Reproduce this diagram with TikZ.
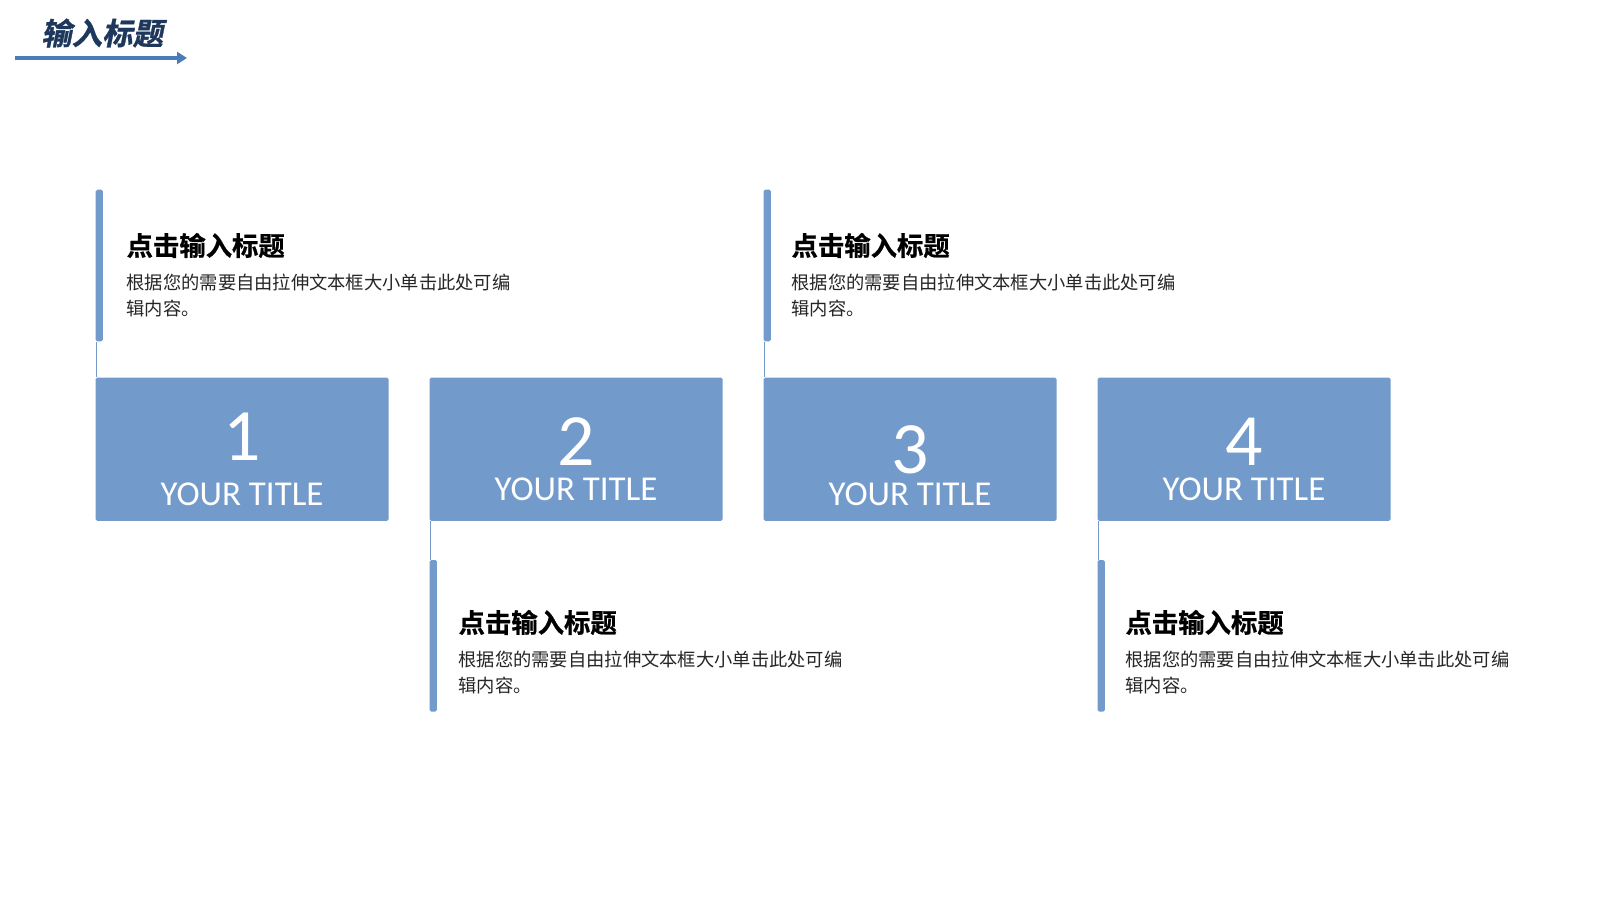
\documentclass[tikz,border=0pt]{standalone}
\usepackage{fontspec}
\setmainfont{Carlito}
\newfontfamily\cjkfont{Noto Sans CJK SC}
\newfontfamily\cjkboldfont{Noto Sans CJK SC Bold}[FakeBold=0.8]
\newfontfamily\cjkslantfont{Noto Sans CJK SC Bold}[FakeSlant=0.2, FakeBold=1]
\usetikzlibrary{positioning, calc, arrows.meta}
\definecolor{boxblue}{RGB}{114,154,203}
\definecolor{arrowblue}{RGB}{74,124,186}
\definecolor{titlenavy}{RGB}{30,55,92}

\begin{document}
\begin{tikzpicture}[x=0.3mm, y=-0.3mm, node distance=12.15mm]

        \tikzstyle{numbox} = [rectangle, rounded corners=0.5mm, fill=boxblue, minimum width=87.9mm, minimum height=43mm, inner sep=0pt]
        \tikzstyle{bar} = [rectangle, rounded corners=0.5mm, fill=boxblue, minimum width=2.2mm, minimum height=45.5mm, inner sep=0pt]
        \tikzstyle{link} = [draw=boxblue, line width=0.8pt]
        \tikzstyle{bignum} = [text=white, inner sep=0pt, font=\fontsize{63}{63}\selectfont]
        \tikzstyle{boxtitle} = [text=white, inner sep=0pt, font=\fontsize{29.8}{29.8}\selectfont]
        \tikzstyle{heading} = [anchor=west, inner sep=0pt, text=black, font=\cjkboldfont\fontsize{22.5}{22.5}\selectfont]
        \tikzstyle{body} = [anchor=north west, inner sep=0pt, align=left, text=black!85, font=\cjkfont\fontsize{15.6}{22.2}\selectfont]
        \tikzstyle{arrow} = [arrowblue, line width=3.4pt, -{Triangle[length=3mm, width=3.6mm]}]

        \useasboundingbox (0,0) rectangle (1600,900);
        \fill [white] (0,0) rectangle (1600,900);

        % page title
        \node (title) [anchor=west, inner sep=0pt, text=titlenavy, font=\cjkslantfont\fontsize{26}{26}\selectfont] at (41,33) {输入标题};
        \coordinate (arrowtail) at (15,58);
        \coordinate (arrowtip) at (187,58);
        \draw [arrow] (arrowtail) -- (arrowtip);

        % the four boxes
        \node (box1) [numbox, anchor=north west] at (95.4,377.3) {};
        \node (box2) [numbox, right=of box1] {};
        \node (box3) [numbox, right=of box2] {};
        \node (box4) [numbox, right=of box3] {};

        \node (num1) [bignum] at ($(box1.center)+(0,-12.7)$) {1};
        \node (title1) [boxtitle] at ($(box1.center)+(0,44.8)$) {YOUR TITLE};
        \node (num2) [bignum] at ($(box2.center)+(0,-7.3)$) {2};
        \node (title2) [boxtitle] at ($(box2.center)+(0,40)$) {YOUR TITLE};
        \node (num3) [bignum] at ($(box3.center)+(0,1)$) {3};
        \node (title3) [boxtitle] at ($(box3.center)+(0,44.7)$) {YOUR TITLE};
        \node (num4) [bignum] at ($(box4.center)+(0,-7)$) {4};
        \node (title4) [boxtitle] at ($(box4.center)+(0,40)$) {YOUR TITLE};

        % side bars, above for 1 and 3, below for 2 and 4
        \node (bar1) [bar, above right=10.7mm and 0mm of box1.north west] {};
        \node (bar2) [bar, below right=11.6mm and 0mm of box2.south west] {};
        \node (bar3) [bar, above right=10.7mm and 0mm of box3.north west] {};
        \node (bar4) [bar, below right=11.6mm and 0mm of box4.south west] {};

        \draw [link] ([xshift=0.8pt]bar1.south west) -- ([xshift=0.8pt]box1.north west);
        \draw [link] ([xshift=0.8pt]box2.south west) -- ([xshift=0.8pt]bar2.north west);
        \draw [link] ([xshift=0.8pt]bar3.south west) -- ([xshift=0.8pt]box3.north west);
        \draw [link] ([xshift=0.8pt]box4.south west) -- ([xshift=0.8pt]bar4.north west);

        \node (head1) [heading] at ($(bar1.north west)+(31,56)$) {点击输入标题};
        \node (text1) [body] at ($(bar1.north west)+(31,84.5)$) {根据您的需要自由拉伸文本框大小单击此处可编\\辑内容。};
        \node (head2) [heading] at ($(bar2.north west)+(29,62.7)$) {点击输入标题};
        \node (text2) [body] at ($(bar2.north west)+(29,90.7)$) {根据您的需要自由拉伸文本框大小单击此处可编\\辑内容。};
        \node (head3) [heading] at ($(bar3.north west)+(28,56)$) {点击输入标题};
        \node (text3) [body] at ($(bar3.north west)+(28,84.5)$) {根据您的需要自由拉伸文本框大小单击此处可编\\辑内容。};
        \node (head4) [heading] at ($(bar4.north west)+(28,62.7)$) {点击输入标题};
        \node (text4) [body] at ($(bar4.north west)+(28,90.7)$) {根据您的需要自由拉伸文本框大小单击此处可编\\辑内容。};
    \end{tikzpicture}
\end{document}
